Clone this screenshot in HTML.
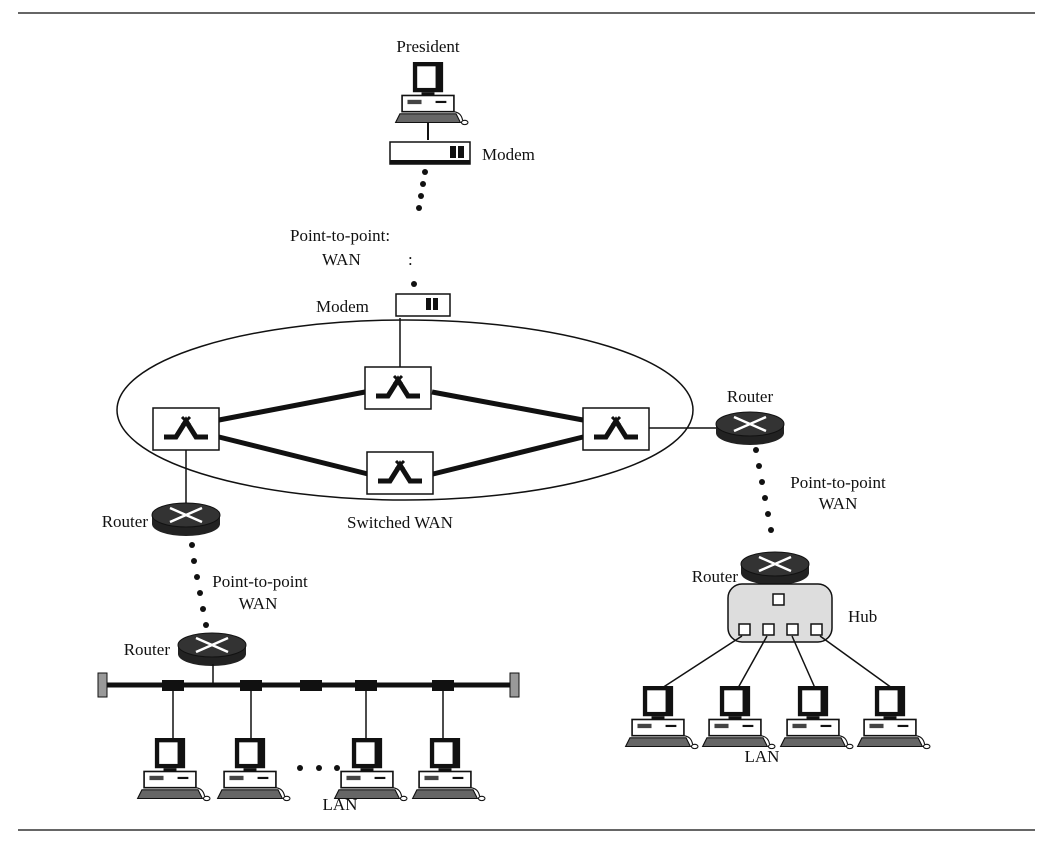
<!DOCTYPE html>
<html><head><meta charset="utf-8"><style>
html,body{margin:0;padding:0;background:#fff;}
svg{display:block;}
text{font-family:"Liberation Serif",serif;font-size:17px;fill:#111;}
</style></head><body>
<svg width="1049" height="844" viewBox="0 0 1049 844" xmlns="http://www.w3.org/2000/svg">
<defs>
<g id="pc0">
  <rect x="-14" y="0" width="28" height="28" fill="#111"/>
  <rect x="-10" y="4" width="17" height="20" fill="#fff"/>
  <rect x="-6" y="28" width="12" height="3" fill="#111"/>
  <rect x="-24" y="31" width="48" height="15" fill="#fff" stroke="#111" stroke-width="1.5"/>
  <rect x="-19" y="35" width="13" height="4" fill="#444"/>
  <rect x="7" y="36" width="10" height="2" fill="#111"/>
  <polygon points="-26,48 26,48 30,56 -30,56" fill="#666" stroke="#111"/>
  <ellipse cx="34" cy="56" rx="3" ry="2" fill="#fff" stroke="#111"/>
  <path d="M24,46 Q31,47 32,54" fill="none" stroke="#111"/>
</g>
<g id="pc"><use href="#pc0" transform="scale(1.08)"/></g>
<g id="sw">
  <rect x="-33" y="-21" width="66" height="42" fill="#fff" stroke="#111" stroke-width="1.5"/>
  <path d="M-22,8 L-10,8 L0,-8 L10,8 L22,8" fill="none" stroke="#111" stroke-width="5"/>
  <path d="M-4,-12 L4,-4 M4,-12 L-4,-4" stroke="#111" stroke-width="3"/>
</g>
<g id="rt">
  <path d="M-34,0 L-34,9 A34,12 0 0 0 34,9 L34,0 Z" fill="#222"/>
  <ellipse cx="0" cy="0" rx="34" ry="12" fill="#333" stroke="#111"/>
  <path d="M-16,-7 L16,7 M16,-7 L-16,7" stroke="#fff" stroke-width="2.5"/>
</g>
</defs>
<line x1="18" y1="13" x2="1035" y2="13" stroke="#333" stroke-width="1.5"/>
<line x1="18" y1="830" x2="1035" y2="830" stroke="#333" stroke-width="1.5"/>

<!-- President -->
<text x="428" y="52" text-anchor="middle">President</text>
<use href="#pc" x="428" y="62"/>
<line x1="428" y1="122" x2="428" y2="140" stroke="#111" stroke-width="2"/>
<!-- modem 1 -->
<rect x="390" y="142" width="80" height="22" fill="#fff" stroke="#111" stroke-width="1.5"/>
<rect x="390" y="160" width="80" height="4" fill="#111"/>
<rect x="450" y="146" width="6" height="12" fill="#111"/><rect x="458" y="146" width="6" height="12" fill="#111"/>
<text x="482" y="160">Modem</text>
<g fill="#111"><circle cx="425" cy="172" r="3"/><circle cx="423" cy="184" r="3"/><circle cx="421" cy="196" r="3"/><circle cx="419" cy="208" r="3"/><circle cx="414" cy="284" r="3"/></g>
<text x="290" y="241">Point-to-point:</text>
<text x="322" y="265">WAN</text>
<text x="408" y="265">:</text>
<!-- modem 2 -->
<rect x="396" y="294" width="54" height="22" fill="#fff" stroke="#111" stroke-width="1.5"/>
<rect x="426" y="298" width="5" height="12" fill="#111"/><rect x="433" y="298" width="5" height="12" fill="#111"/>
<text x="316" y="312">Modem</text>
<line x1="400" y1="318" x2="400" y2="368" stroke="#111" stroke-width="1.5"/>

<!-- switched WAN -->
<ellipse cx="405" cy="410" rx="288" ry="90" fill="none" stroke="#111" stroke-width="1.5"/>
<g stroke="#111" stroke-width="5">
<line x1="219" y1="420" x2="365" y2="392"/>
<line x1="219" y1="437" x2="368" y2="474"/>
<line x1="432" y1="392" x2="583" y2="420"/>
<line x1="433" y1="474" x2="583" y2="437"/>
</g>
<use href="#sw" x="186" y="429"/>
<use href="#sw" x="398" y="388"/>
<use href="#sw" x="400" y="473"/>
<use href="#sw" x="616" y="429"/>
<text x="400" y="528" text-anchor="middle">Switched WAN</text>

<!-- right side -->
<line x1="649" y1="428" x2="716" y2="428" stroke="#111" stroke-width="1.5"/>
<text x="750" y="402" text-anchor="middle">Router</text>
<use href="#rt" x="750" y="424"/>
<g fill="#111"><circle cx="756" cy="450" r="3"/><circle cx="759" cy="466" r="3"/><circle cx="762" cy="482" r="3"/><circle cx="765" cy="498" r="3"/><circle cx="768" cy="514" r="3"/><circle cx="771" cy="530" r="3"/></g>
<text x="838" y="488" text-anchor="middle">Point-to-point</text>
<text x="838" y="509" text-anchor="middle">WAN</text>
<text x="738" y="582" text-anchor="end">Router</text>
<use href="#rt" x="775" y="564"/>
<line x1="778" y1="584" x2="778" y2="596" stroke="#111" stroke-width="1.5"/>
<rect x="728" y="584" width="104" height="58" rx="14" fill="#ddd" stroke="#111" stroke-width="1.5"/>
<rect x="773" y="594" width="11" height="11" fill="#fff" stroke="#111" stroke-width="1.5"/>
<g fill="#fff" stroke="#111" stroke-width="1.5">
<rect x="739" y="624" width="11" height="11"/><rect x="763" y="624" width="11" height="11"/><rect x="787" y="624" width="11" height="11"/><rect x="811" y="624" width="11" height="11"/></g>
<text x="848" y="622">Hub</text>
<g stroke="#111" stroke-width="1.5">
<line x1="742" y1="636" x2="662" y2="688"/><line x1="767" y1="636" x2="738" y2="688"/><line x1="792" y1="636" x2="815" y2="688"/><line x1="820" y1="636" x2="892" y2="688"/></g>
<use href="#pc" x="658" y="686"/><use href="#pc" x="735" y="686"/><use href="#pc" x="813" y="686"/><use href="#pc" x="890" y="686"/>
<text x="762" y="762" text-anchor="middle">LAN</text>

<!-- left side -->
<line x1="186" y1="450" x2="186" y2="508" stroke="#111" stroke-width="1.5"/>
<text x="148" y="527" text-anchor="end">Router</text>
<use href="#rt" x="186" y="515"/>
<g fill="#111"><circle cx="192" cy="545" r="3"/><circle cx="194" cy="561" r="3"/><circle cx="197" cy="577" r="3"/><circle cx="200" cy="593" r="3"/><circle cx="203" cy="609" r="3"/><circle cx="206" cy="625" r="3"/></g>
<text x="260" y="587" text-anchor="middle">Point-to-point</text>
<text x="258" y="609" text-anchor="middle">WAN</text>
<text x="170" y="655" text-anchor="end">Router</text>
<use href="#rt" x="212" y="645"/>
<line x1="213" y1="664" x2="213" y2="685" stroke="#111" stroke-width="1.5"/>
<line x1="106" y1="685" x2="512" y2="685" stroke="#111" stroke-width="5"/>
<rect x="98" y="673" width="9" height="24" fill="#999" stroke="#111"/>
<rect x="510" y="673" width="9" height="24" fill="#999" stroke="#111"/>
<g fill="#111"><rect x="162" y="680" width="22" height="11"/><rect x="240" y="680" width="22" height="11"/><rect x="300" y="680" width="22" height="11"/><rect x="355" y="680" width="22" height="11"/><rect x="432" y="680" width="22" height="11"/></g>
<g stroke="#111" stroke-width="1.5"><line x1="173" y1="690" x2="173" y2="738"/><line x1="251" y1="690" x2="251" y2="738"/><line x1="366" y1="690" x2="366" y2="738"/><line x1="443" y1="690" x2="443" y2="738"/></g>
<use href="#pc" x="170" y="738"/><use href="#pc" x="250" y="738"/><use href="#pc" x="367" y="738"/><use href="#pc" x="445" y="738"/>
<g fill="#111"><circle cx="300" cy="768" r="3"/><circle cx="319" cy="768" r="3"/><circle cx="337" cy="768" r="3"/></g>
<text x="340" y="810" text-anchor="middle">LAN</text>
</svg>
</body></html>
